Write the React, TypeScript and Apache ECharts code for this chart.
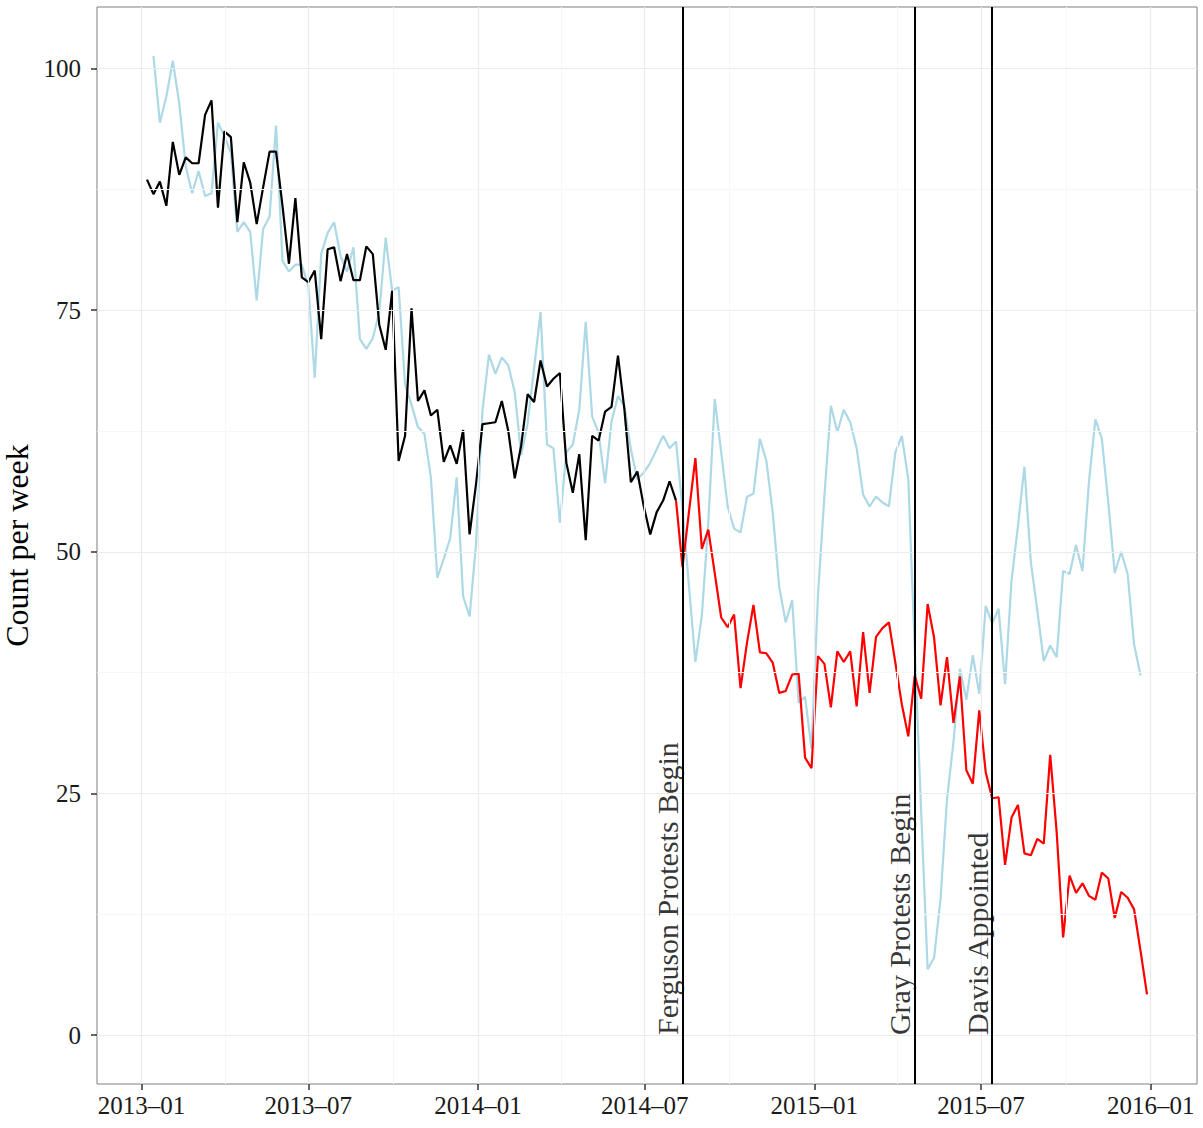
import React, { useEffect, useRef } from 'react';
import * as echarts from 'echarts';

// Weekly series: week 0 = 2013-01-07 (Mondays)
const START_DATE = '2013-01-07';

// Before Ferguson (weeks 0..82)
const blackValues = [
  88.5, 87.0, 88.3, 85.8, 92.4, 89.0, 90.8, 90.2, 90.2, 95.2,
  96.7, 85.6, 93.5, 92.9, 84.1, 90.3, 88.2, 83.9, 87.7, 91.4,
  91.4, 85.8, 79.8, 86.6, 78.4, 77.9, 79.1, 72.0, 81.3, 81.5,
  78.0, 80.8, 78.1, 78.1, 81.6, 80.8, 73.5, 70.9, 77.0, 59.4,
  62.0, 75.2, 65.6, 66.7, 64.1, 64.7, 59.3, 61.0, 59.1, 62.6,
  51.8, 57.0, 63.2, 63.3, 63.4, 65.6, 62.5, 57.6, 61.0, 66.3,
  65.5, 69.8, 67.1, 67.9, 68.5, 59.2, 56.1, 60.1, 51.2, 62.0,
  61.5, 64.5, 65.0, 70.3, 64.7, 57.2, 58.3, 54.7, 51.8, 54.1,
  55.3, 57.3, 55.3,
];

// After Ferguson (weeks 82..155)
const RED_OFFSET = 82;
const redValues = [
  55.3, 48.4, 54.1, 59.7, 50.3, 52.3, 47.8, 43.2, 42.2, 43.5,
  35.9, 40.6, 44.5, 39.6, 39.5, 38.5, 35.4, 35.6, 37.3, 37.4,
  28.7, 27.6, 39.2, 38.4, 33.9, 39.7, 38.6, 39.7, 34.0, 41.7,
  35.4, 41.2, 42.1, 42.7, 38.5, 34.2, 30.9, 37.2, 34.8, 44.6,
  41.1, 34.1, 39.1, 32.3, 37.1, 27.4, 26.0, 33.6, 27.2, 24.5,
  24.6, 17.6, 22.5, 23.8, 18.8, 18.6, 20.3, 19.8, 29.0, 21.0,
  10.1, 16.5, 14.7, 15.7, 14.4, 14.0, 16.8, 16.2, 12.1, 14.8,
  14.2, 13.0, 8.7, 4.2,
];

// Comparison series (weeks 1..154)
const BLUE_OFFSET = 1;
const blueValues = [
  101.3, 94.4, 97.1, 100.8, 96.4, 89.9, 87.1, 89.4, 86.8, 87.1,
  94.4, 93.0, 91.3, 83.1, 84.1, 83.1, 76.0, 83.4, 84.7, 94.1,
  80.1, 79.0, 79.7, 79.7, 77.5, 68.0, 80.8, 83.0, 84.1, 80.6,
  79.0, 81.5, 72.0, 71.0, 72.1, 74.8, 82.5, 77.0, 77.4, 67.3,
  65.2, 62.9, 62.2, 57.7, 47.3, 49.3, 51.4, 57.7, 45.4, 43.3,
  50.8, 64.6, 70.4, 68.4, 70.1, 69.3, 66.5, 60.0, 63.3, 69.0,
  74.8, 61.1, 60.7, 53.0, 60.3, 61.1, 64.7, 73.8, 64.0, 62.3,
  57.1, 63.5, 66.1, 65.1, 60.6, 57.5, 58.2, 59.2, 60.6, 62.0,
  60.7, 61.4, 54.5, 46.5, 38.6, 43.4, 53.0, 65.8, 60.3, 54.7,
  52.4, 52.0, 55.7, 56.0, 61.7, 59.4, 54.0, 46.3, 42.7, 45.0,
  34.4, 35.0, 29.6, 45.5, 55.8, 65.1, 62.4, 64.7, 63.4, 60.7,
  55.9, 54.7, 55.7, 55.1, 54.7, 60.3, 62.0, 57.5, 40.0, 23.0,
  6.8, 8.0, 14.1, 24.4, 30.3, 37.9, 34.7, 39.3, 35.3, 44.4,
  42.6, 44.1, 36.3, 47.0, 52.7, 58.8, 48.9, 43.9, 38.7, 40.3,
  39.1, 48.0, 47.7, 50.7, 48.0, 57.2, 63.7, 61.7, 55.1, 47.8,
  50.0, 47.7, 40.4, 37.2,
];

const eventDates = ['2014-08-11', '2015-04-20', '2015-07-13'];
const eventLabels = ['Ferguson Protests Begin', 'Gray Protests Begin', 'Davis Appointed'];

const xTickDates = ['2013-01-01', '2013-07-01', '2014-01-01', '2014-07-01', '2015-01-01', '2015-07-01', '2016-01-01'];
const yTickValues = [0, 25, 50, 75, 100];
const yMinorValues = [12.5, 37.5, 62.5, 87.5];

const DAY = 86400000;
const ts = (s: string) => {
  const [y, m, d] = s.split('-').map(Number);
  return Date.UTC(y, m - 1, d);
};
const weekTs = (i: number) => ts(START_DATE) + i * 7 * DAY;

const FONT = 'Liberation Serif';

export default function App() {
  const ref = useRef<HTMLDivElement>(null);

  useEffect(() => {
    document.body.style.margin = '0';
    if (!ref.current) return;
    const chart = echarts.init(ref.current, undefined, { renderer: 'svg' });

    const blackData = blackValues.map((v, i) => [weekTs(i), v]);
    const redData = redValues.map((v, i) => [weekTs(i + RED_OFFSET), v]);
    const blueData = blueValues.map((v, i) => [weekTs(i + BLUE_OFFSET), v]);

    const lastWeek = RED_OFFSET + redValues.length - 1;
    const xStart = weekTs(0);
    const xEnd = weekTs(lastWeek);
    const xPad = (xEnd - xStart) * 0.05;
    const allVals = [...blackValues, ...redValues, ...blueValues, 0];
    const yLo = Math.min(...allVals);
    const yHi = Math.max(...allVals);
    const yPad = (yHi - yLo) * 0.05;

    const xMajor = xTickDates.map(ts);
    const xMinor = xMajor.slice(1).map((v, i) => (v + xMajor[i]) / 2);

    const fmt = (v: number) => {
      const d = new Date(v);
      const m = d.getUTCMonth() + 1;
      return `${d.getUTCFullYear()}\u2013${m < 10 ? '0' + m : m}`;
    };

    chart.setOption({
      animation: false,
      backgroundColor: '#ffffff',
      grid: {
        left: 97, top: 7, width: 1100, height: 1077,
        outerBoundsMode: 'none',
        containLabel: false,
        show: true, borderColor: '#7f7f7f', borderWidth: 1, backgroundColor: '#ffffff',
      },
      xAxis: {
        type: 'value',
        min: xStart - xPad,
        max: xEnd + xPad,
        axisLine: { show: false, onZero: false },
        splitLine: { show: false },
        axisTick: { show: true, customValues: xMajor, length: 6, lineStyle: { color: '#333', width: 1.5 } },
        axisLabel: {
          customValues: xMajor, formatter: fmt, margin: 9,
          fontFamily: FONT, fontSize: 25, color: '#1a1a1a',
        },
      },
      yAxis: {
        type: 'value',
        min: yLo - yPad,
        max: yHi + yPad,
        axisLine: { show: false, onZero: false },
        splitLine: { show: false },
        axisTick: { show: true, customValues: yTickValues, length: 6, lineStyle: { color: '#333', width: 1.5 } },
        axisLabel: {
          customValues: yTickValues, margin: 16,
          fontFamily: FONT, fontSize: 25, color: '#1a1a1a',
        },
        name: 'Count per week',
        nameLocation: 'middle',
        nameGap: 57,
        nameTextStyle: { fontFamily: FONT, fontSize: 32, color: '#000' },
      },
      series: [
        {
          type: 'line', data: [], z: 1, silent: true,
          markLine: {
            silent: true, symbol: ['none', 'none'], animation: false,
            label: { show: false },
            emphasis: { disabled: true },
            data: [
              ...xMinor.map((v) => ({ xAxis: v, lineStyle: { color: '#f7f7f7', width: 1, type: 'solid' } })),
              ...yMinorValues.map((v) => ({ yAxis: v, lineStyle: { color: '#f7f7f7', width: 1, type: 'solid' } })),
              ...xMajor.map((v) => ({ xAxis: v, lineStyle: { color: '#ebebeb', width: 1.2, type: 'solid' } })),
              ...yTickValues.map((v) => ({ yAxis: v, lineStyle: { color: '#ebebeb', width: 1.2, type: 'solid' } })),
            ],
          },
        },
        {
          name: 'comparison', type: 'line', data: blueData, z: 2,
          showSymbol: false, symbol: 'none',
          lineStyle: { color: '#ADD8E6', width: 2.2 },
        },
        {
          name: 'before', type: 'line', data: blackData, z: 3,
          showSymbol: false, symbol: 'none',
          lineStyle: { color: '#000000', width: 2.2 },
        },
        {
          name: 'after', type: 'line', data: redData, z: 3,
          showSymbol: false, symbol: 'none',
          lineStyle: { color: '#FF0000', width: 2.2 },
        },
        {
          type: 'line', data: [], z: 4, silent: true,
          markLine: {
            silent: true, symbol: ['none', 'none'], animation: false,
            label: { show: false },
            emphasis: { disabled: true },
            lineStyle: { color: '#000', width: 2, type: 'solid' },
            data: eventDates.map((d) => ({ xAxis: ts(d) })),
          },
        },
        {
          type: 'scatter', z: 5, silent: true,
          symbolSize: 0,
          data: eventDates.map((d, i) => [ts(d), 0, eventLabels[i]]),
          label: {
            show: true,
            position: 'inside',
            rotate: 90,
            align: 'left',
            verticalAlign: 'bottom',
            formatter: (p: any) => p.data[2],
            fontFamily: FONT, fontSize: 30, color: '#000',
          },
        },
      ],
    });

    return () => chart.dispose();
  }, []);

  return <div ref={ref} style={{ width: 1203, height: 1128 }} />;
}
